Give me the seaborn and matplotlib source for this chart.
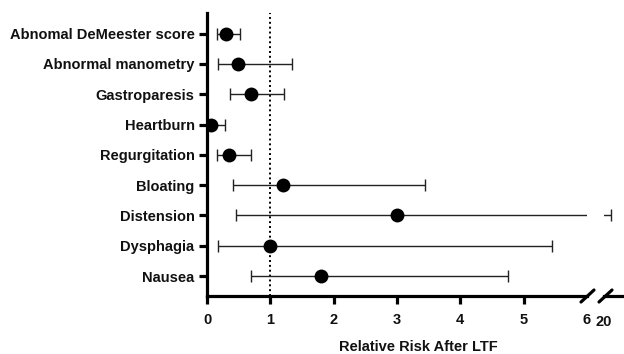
import matplotlib
matplotlib.use("Agg")
import matplotlib.pyplot as plt
import seaborn as sns
import pandas as pd

categories = ["Abnomal DeMeester score", "Abnormal manometry", "Gastroparesis",
              "Heartburn", "Regurgitation", "Bloating", "Distension",
              "Dysphagia", "Nausea"]
rr = [0.30, 0.49, 0.69, 0.06, 0.34, 1.20, 3.00, 1.00, 1.80]
ci_low = [0.15, 0.18, 0.37, 0.02, 0.16, 0.41, 0.45, 0.18, 0.69]
ci_high = [0.52, 1.34, 1.21, 0.29, 0.69, 3.44, 20.35, 5.45, 4.76]
x_ticks = [0, 1, 2, 3, 4, 5, 6]
x_ticks_far = [20]

df = pd.DataFrame({"cat": categories, "rr": rr, "lo": ci_low, "hi": ci_high})
df["y"] = range(len(df))

sns.set_theme(style="white")
plt.rcParams["font.family"] = ["Liberation Sans", "DejaVu Sans"]
plt.rcParams["font.weight"] = "bold"

FS = 10.5
fig = plt.figure(figsize=(6.24, 3.54), dpi=100)
W, H = 624, 354
ax = fig.add_axes([207 / W, 1 - 296 / H, 380 / W, 283 / H])
ax2 = fig.add_axes([604 / W, 1 - 296 / H, 20 / W, 283 / H], sharey=ax)

for a, xl in ((ax, (0, 6)), (ax2, (20, 21))):
    a.errorbar(df["rr"], df["y"],
               xerr=[df["rr"] - df["lo"], df["hi"] - df["rr"]],
               fmt="none", ecolor="#222222", elinewidth=1.0, capsize=4.5, capthick=1.0)
    sns.scatterplot(data=df, x="rr", y="y", ax=a, color="black", s=100,
                    edgecolor="black", linewidth=0, zorder=5, legend=False)
    a.set_xlim(*xl)
    a.set_xlabel("")
    a.set_ylabel("")
    a.set_facecolor("none")

ax.axvline(1, color="black", linestyle=(0, (1, 1.5)), linewidth=1.4, zorder=1)

ax.set_ylim(8.66, -0.68)
ax.set_yticks(df["y"])
ax.set_yticklabels(categories, fontsize=FS, fontweight="bold", color="#111111")
ax.set_xticks(x_ticks)
ax.set_xticklabels([str(t) for t in x_ticks], fontsize=FS, fontweight="bold", color="#111111")

for s in ["top", "right"]:
    ax.spines[s].set_visible(False)
for s in ["left", "bottom"]:
    ax.spines[s].set_linewidth(2.3)
    ax.spines[s].set_color("black")
ax.tick_params(axis="both", direction="out", length=6, width=2.3, color="black", pad=3,
               left=True, bottom=True)
ax.tick_params(axis="x", pad=6)
ax.xaxis.get_major_ticks()[-1].tick1line.set_visible(False)

ax2.spines["top"].set_visible(False)
ax2.spines["right"].set_visible(False)
ax2.spines["left"].set_visible(False)
ax2.spines["bottom"].set_linewidth(2.3)
ax2.spines["bottom"].set_color("black")
ax2.set_xticks(x_ticks_far)
ax2.set_xticklabels([str(t) for t in x_ticks_far], fontsize=FS, fontweight="bold", color="#111111")
ax2.tick_params(axis="x", length=0, pad=14, bottom=True)
ax2.tick_params(axis="y", left=False, labelleft=False)

# axis break marks
for x0 in (581, 599):
    fig.add_artist(plt.Line2D([x0 / W, (x0 + 13) / W], [1 - 302 / H, 1 - 290 / H],
                              color="black", linewidth=2.3))

fig.text(418 / W, 1 - 347 / H, "Relative Risk After LTF", ha="center", va="center",
         fontsize=FS, fontweight="bold", color="#111111")

fig.savefig("out.png", dpi=100)
